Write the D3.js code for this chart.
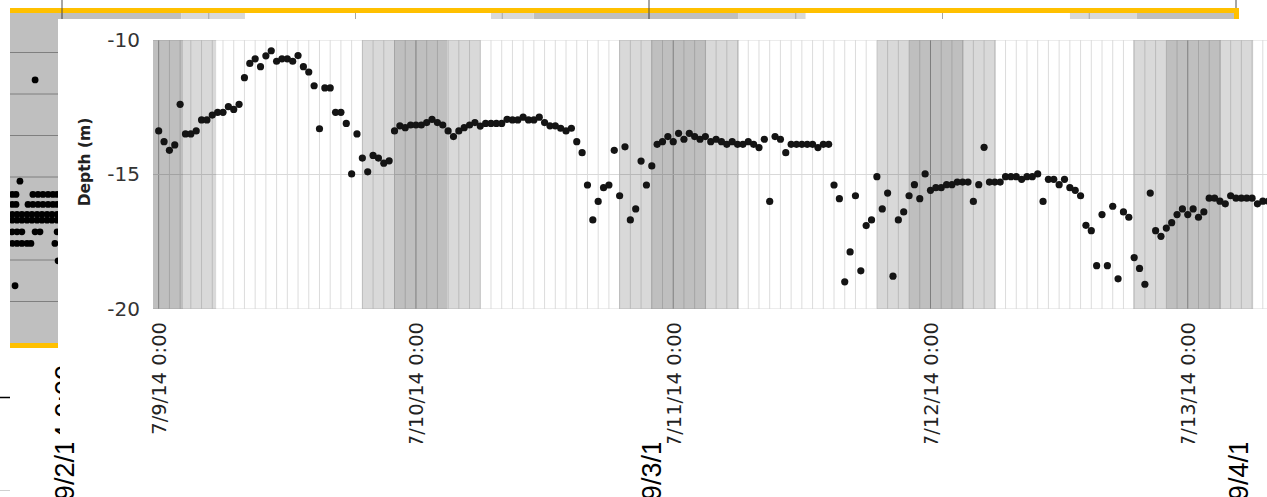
<!DOCTYPE html>
<html>
<head>
<meta charset="utf-8">
<script src="https://cdn.jsdelivr.net/npm/d3@7"></script>
<style>
  html, body { margin: 0; padding: 0; background: #fff; }
  svg { display: block; }
</style>
</head>
<body>
<div id="chart"></div>
<script>
// ---------- main chart: depth every 30 min from 7/9/14 0:00 ----------
const startTime = new Date(2014, 6, 9, 0, 0);
const stepHours = 0.5;
const depths = [
  -13.38, -13.78, -14.10, -13.90, -12.39, -13.49, -13.49, -13.38, -12.97, -12.97,
  -12.79, -12.69, -12.69, -12.48, -12.58, -12.39, -11.40, -10.87, -10.70, -10.99,
  -10.59, -10.40, -10.79, -10.70, -10.70, -10.79, -10.58, -10.99, -11.19, -11.70,
  -13.30, -11.78, -11.78, -12.69, -12.69, -13.10, -14.98, -13.49, -14.39, -14.90,
  -14.29, -14.39, -14.58, -14.49, -13.38, -13.19, -13.26, -13.16, -13.16, -13.16,
  -13.07, -12.95, -13.07, -13.16, -13.38, -13.59, -13.38, -13.26, -13.16, -13.07,
  -13.20, -13.10, -13.10, -13.10, -13.10, -12.95, -12.97, -12.97, -12.87, -12.97,
  -12.97, -12.87, -13.07, -13.19, -13.19, -13.28, -13.38, -13.28, -13.78, -14.19,
  -15.39, -16.69, -16.00, -15.49, -15.39, -14.10, -15.79, -13.97, -16.69, -16.28,
  -14.50, -15.39, -14.68, -13.88, -13.78, -13.59, -13.78, -13.47, -13.69, -13.47,
  -13.59, -13.69, -13.59, -13.78, -13.69, -13.78, -13.88, -13.78, -13.88, -13.88,
  -13.78, -13.88, -14.00, -13.69, -16.00, -13.59, -13.69, -14.19, -13.88, -13.88,
  -13.88, -13.88, -13.88, -14.00, -13.88, -13.88, -15.39, -15.90, -18.99, -17.88,
  -15.79, -18.58, -16.90, -16.69, -15.08, -16.28, -15.69, -18.78, -16.69, -16.39,
  -15.79, -15.38, -15.90, -14.98, -15.59, -15.49, -15.49, -15.38, -15.38, -15.28,
  -15.28, -15.28, -16.00, -15.38, -13.99, -15.28, -15.28, -15.28, -15.08, -15.08,
  -15.08, -15.18, -15.08, -15.08, -14.98, -16.00, -15.18, -15.18, -15.38, -15.18,
  -15.49, -15.59, -15.79, -16.89, -17.09, -18.39, -16.49, -18.39, -16.18, -18.88,
  -16.39, -16.59, -18.09, -18.49, -19.08, -15.69, -17.09, -17.30, -16.99, -16.79,
  -16.49, -16.28, -16.49, -16.28, -16.59, -16.39, -15.88, -15.88, -15.99, -16.09,
  -15.79, -15.88, -15.88, -15.88, -15.88, -16.09, -15.99, -15.99
];
const yTicks = [-10, -15, -20];
const dayLabels = ['7/9/14 0:00', '7/10/14 0:00', '7/11/14 0:00', '7/12/14 0:00', '7/13/14 0:00'];
// shaded periods, in hours after startTime
const darkPeriods = [[-2, 2.27], [21.95, 26.9], [45.93, 51.06], [70.0, 75.1], [94.0, 99.1]];
const lightPeriods = [[2.27, 5.36], [18.96, 21.95], [26.9, 30.04], [42.94, 45.93], [51.06, 54.14],
                      [67.0, 70.0], [75.1, 78.1], [90.9, 94.0], [99.1, 102.1]];

// ---------- chart behind it (mostly covered) ----------
const bgStart = new Date(2014, 8, 2, 0, 0);
const bgDayLabels = ['9/2/14 0:00', '9/3/14 0:00', '9/4/14 0:00'];
const bgYTicks = [-5, -10, -15, -20, -25, -30, -35];
const bgDark = [[-5, 4.87], [19.28, 27.66], [43.95, 52]];
const bgLight = [[4.87, 7.48], [17.54, 19.28], [27.66, 30.4], [41.21, 43.95]];
const bgDotHours = [
  -1.88, -2.04, -1.19, -0.98, -0.78, -0.57, -0.37, -0.20,
  -2.04, -1.88, -1.39, -1.19, -0.98, -0.78, -0.57, -0.37, -0.20,
  -2.04, -1.84, -1.64, -1.43, -1.23, -1.02, -0.82, -0.61, -0.41, -0.20,
  -2.04, -1.84, -1.64, -1.43, -1.23, -1.02, -0.82, -0.61, -0.41, -0.20,
  -2.04, -1.84, -1.64, -1.10, -0.90, -0.20,
  -2.04, -1.84, -1.64, -1.43, -1.27, -0.29,
  -1.10, -1.72, -1.92, -0.16
];
const bgDotDepths = [
  -22.1, -22.1, -22.1, -22.1, -22.1, -22.1, -22.1, -22.1,
  -23.3, -23.3, -23.3, -23.3, -23.3, -23.3, -23.3, -23.3, -23.3,
  -24.5, -24.5, -24.5, -24.5, -24.5, -24.5, -24.5, -24.5, -24.5, -24.5,
  -25.2, -25.2, -25.2, -25.2, -25.2, -25.2, -25.2, -25.2, -25.2, -25.2,
  -26.6, -26.6, -26.6, -26.6, -26.6, -26.6,
  -28.0, -28.0, -28.0, -28.0, -28.0, -28.0,
  -8.3, -20.5, -33.1, -30.1
];

const W = 1267, H = 497;
const hoursAfter = (base, h) => new Date(+base + h * 36e5);
const parseLabel = d3.timeParse('%-m/%-d/%y %-H:%M');

const svg = d3.select('#chart').append('svg')
  .attr('width', W)
  .attr('height', H)
  .style('font-family', '"DejaVu Sans", sans-serif');

// ===== background chart =====
const bgX = d3.scaleTime()
  .domain([bgStart, hoursAfter(bgStart, 48)])
  .range([62, 1236]);
const bgY = d3.scaleLinear().domain([-40, 0]).range([343, 11]);

svg.append('clipPath').attr('id', 'bgclip')
  .append('rect').attr('x', 10).attr('y', bgY(0)).attr('width', 1228).attr('height', bgY(-40) - bgY(0));

const bg = svg.append('g');
const bgPlot = bg.append('g').attr('clip-path', 'url(#bgclip)');

bgPlot.selectAll('.bg-dark').data(bgDark).join('rect')
  .attr('x', d => bgX(hoursAfter(bgStart, d[0])))
  .attr('width', d => bgX(hoursAfter(bgStart, d[1])) - bgX(hoursAfter(bgStart, d[0])))
  .attr('y', bgY(0)).attr('height', bgY(-40) - bgY(0))
  .attr('fill', '#bfbfbf');
bgPlot.selectAll('.bg-light').data(bgLight).join('rect')
  .attr('x', d => bgX(hoursAfter(bgStart, d[0])))
  .attr('width', d => bgX(hoursAfter(bgStart, d[1])) - bgX(hoursAfter(bgStart, d[0])))
  .attr('y', bgY(0)).attr('height', bgY(-40) - bgY(0))
  .attr('fill', '#d9d9d9');

bgPlot.selectAll('.bg-hgrid').data(bgYTicks).join('line')
  .attr('x1', 10).attr('x2', 1238)
  .attr('y1', d => bgY(d)).attr('y2', d => bgY(d))
  .attr('stroke', '#7f7f7f').attr('stroke-width', 1);

bgPlot.selectAll('.bg-vgrid').data(bgX.ticks(d3.timeHour.every(6))).join('line')
  .attr('x1', d => bgX(d)).attr('x2', d => bgX(d))
  .attr('y1', bgY(0)).attr('y2', bgY(-40))
  .attr('stroke', '#a6a6a6').attr('stroke-width', 1);

bgPlot.selectAll('circle').data(bgDotHours).join('circle')
  .attr('cx', d => bgX(hoursAfter(bgStart, d)))
  .attr('cy', (d, i) => bgY(bgDotDepths[i]))
  .attr('r', 3.4)
  .attr('fill', '#000');

// yellow frame (top, bottom, right side)
bg.append('line').attr('x1', 10).attr('x2', 1239).attr('y1', 10.5).attr('y2', 10.5)
  .attr('stroke', '#ffc000').attr('stroke-width', 5);
bg.append('line').attr('x1', 10).attr('x2', 1239).attr('y1', 345.5).attr('y2', 345.5)
  .attr('stroke', '#ffc000').attr('stroke-width', 5);
bg.append('line').attr('x1', 1236.5).attr('x2', 1236.5).attr('y1', 8).attr('y2', 348)
  .attr('stroke', '#ffc000').attr('stroke-width', 5);

// day marks sticking out above the frame
const bgDays = bgDayLabels.map(parseLabel);
bg.selectAll('.bg-day').data(bgDays).join('line')
  .attr('x1', d => bgX(d)).attr('x2', d => bgX(d))
  .attr('y1', 0).attr('y2', (d, i) => i === 2 ? 8 : 19)
  .attr('stroke', '#4d4d4d').attr('stroke-width', 1);

bg.selectAll('.bg-label').data(bgDays).join('text')
  .attr('transform', d => `translate(${bgX(d) + 3},365) rotate(-90)`)
  .attr('text-anchor', 'end')
  .attr('dy', '0.35em')
  .style('font-family', '"Liberation Sans", Arial, sans-serif')
  .style('font-size', '27px')
  .attr('fill', '#000')
  .text((d, i) => bgDayLabels[i]);

bg.append('line').attr('x1', 0).attr('x2', 10).attr('y1', 397.5).attr('y2', 397.5)
  .attr('stroke', '#000').attr('stroke-width', 1.5);
bg.append('line').attr('x1', 0).attr('x2', 10).attr('y1', 490.5).attr('y2', 490.5)
  .attr('stroke', '#d0d0d0').attr('stroke-width', 1);

// ===== main chart, pasted on top =====
const sheetPath = 'M58,19 H1267 V443 H60 V350 H58 Z';
svg.append('clipPath').attr('id', 'sheet').append('path').attr('d', sheetPath);
svg.append('path').attr('d', sheetPath).attr('fill', '#fff');

const fg = svg.append('g').attr('clip-path', 'url(#sheet)');

const x = d3.scaleTime()
  .domain([hoursAfter(startTime, -0.53), hoursAfter(startTime, 106.47)])
  .range([153, 1300]);
const y = d3.scaleLinear().domain([-20, -10]).range([309, 40]);

svg.append('clipPath').attr('id', 'plot')
  .append('rect').attr('x', 153).attr('y', y(-10)).attr('width', 1147).attr('height', y(-20) - y(-10));
const plot = fg.append('g').attr('clip-path', 'url(#plot)');

// hourly gridlines, midnight a bit darker
plot.selectAll('.hgrid').data(x.ticks(d3.timeHour.every(1))).join('line')
  .attr('x1', d => x(d)).attr('x2', d => x(d))
  .attr('y1', y(-10)).attr('y2', y(-20))
  .attr('stroke', d => d.getHours() === 0 ? '#a8a8a8' : '#dcdcdc')
  .attr('stroke-width', 1);

plot.selectAll('.ygrid').data(yTicks).join('line')
  .attr('x1', 153).attr('x2', 1300)
  .attr('y1', d => y(d)).attr('y2', d => y(d))
  .attr('stroke', '#d9d9d9').attr('stroke-width', 1);

// shaded periods
plot.selectAll('.light').data(lightPeriods).join('rect')
  .attr('x', d => x(hoursAfter(startTime, d[0])))
  .attr('width', d => x(hoursAfter(startTime, d[1])) - x(hoursAfter(startTime, d[0])))
  .attr('y', y(-10)).attr('height', y(-20) - y(-10))
  .attr('fill', '#000').attr('fill-opacity', 0.15);
plot.selectAll('.dark').data(darkPeriods).join('rect')
  .attr('x', d => x(hoursAfter(startTime, d[0])))
  .attr('width', d => x(hoursAfter(startTime, d[1])) - x(hoursAfter(startTime, d[0])))
  .attr('y', y(-10)).attr('height', y(-20) - y(-10))
  .attr('fill', '#000').attr('fill-opacity', 0.25);

plot.selectAll('.dot').data(depths).join('circle')
  .attr('cx', (d, i) => x(hoursAfter(startTime, i * stepHours)))
  .attr('cy', d => y(d))
  .attr('r', 3.6)
  .attr('fill', '#141414');

// axes
const yAxis = fg.append('g')
  .attr('transform', 'translate(153,0)')
  .call(d3.axisLeft(y).tickValues(yTicks).tickSize(0).tickPadding(13).tickFormat(d => String(d)));
yAxis.select('.domain').remove();
yAxis.selectAll('text')
  .style('font-family', '"DejaVu Sans", sans-serif')
  .style('font-size', '20px')
  .attr('fill', '#333');

const xAxis = fg.append('g')
  .attr('transform', `translate(0,${y(-20)})`)
  .call(d3.axisBottom(x).tickValues(dayLabels.map(parseLabel)).tickSize(0)
    .tickFormat(d3.timeFormat('%-m/%-d/%y %-H:%M')));
xAxis.select('.domain').remove();
xAxis.selectAll('text')
  .attr('transform', 'rotate(-90)')
  .attr('text-anchor', 'end')
  .attr('x', -13)
  .attr('y', 0)
  .attr('dy', '0.35em')
  .style('font-family', '"DejaVu Sans", sans-serif')
  .style('font-size', '19.5px')
  .attr('fill', '#222');

fg.append('text')
  .attr('transform', 'translate(85,162) rotate(-90)')
  .attr('text-anchor', 'middle')
  .attr('dy', '0.35em')
  .style('font-size', '15.5px')
  .style('font-weight', 'bold')
  .attr('fill', '#222')
  .text('Depth (m)');
</script>
</body>
</html>
